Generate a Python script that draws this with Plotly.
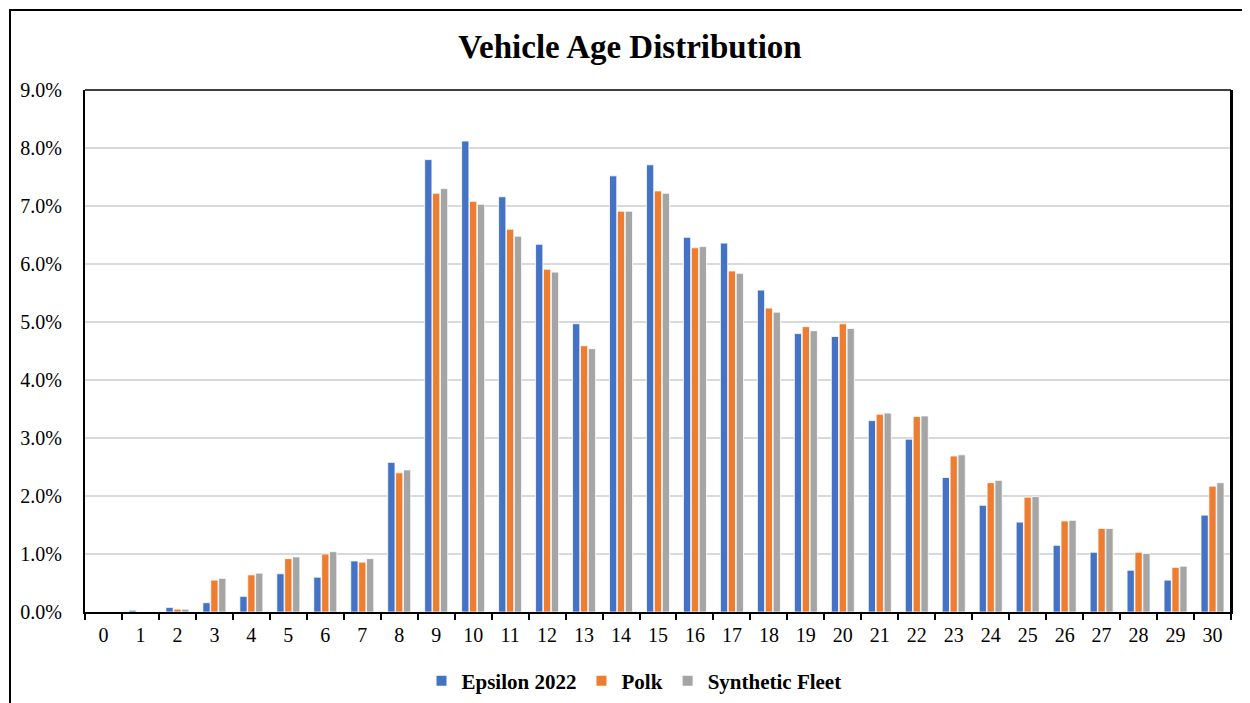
import plotly.graph_objects as go

ages = [str(i) for i in range(31)]
epsilon = [0.0, 0.03, 0.08, 0.16, 0.27, 0.66, 0.60, 0.88, 2.58, 7.80, 8.12, 7.16, 6.34, 4.97,
           7.52, 7.71, 6.46, 6.36, 5.55, 4.80, 4.75, 3.30, 2.98, 2.32, 1.84, 1.55, 1.15, 1.03,
           0.72, 0.55, 1.67]
polk = [0.0, 0.0, 0.05, 0.55, 0.64, 0.92, 1.00, 0.86, 2.40, 7.22, 7.08, 6.60, 5.91, 4.59,
        6.91, 7.26, 6.28, 5.88, 5.24, 4.92, 4.97, 3.41, 3.37, 2.69, 2.23, 1.98, 1.57, 1.44,
        1.03, 0.77, 2.17]
synthetic = [0.0, 0.0, 0.05, 0.58, 0.67, 0.95, 1.04, 0.92, 2.45, 7.30, 7.03, 6.48, 5.86, 4.54,
             6.91, 7.22, 6.30, 5.84, 5.17, 4.85, 4.89, 3.43, 3.38, 2.71, 2.27, 1.99, 1.58, 1.44,
             1.01, 0.79, 2.23]
y_ticks = [0, 1, 2, 3, 4, 5, 6, 7, 8, 9]
y_tick_labels = ["0.0%", "1.0%", "2.0%", "3.0%", "4.0%", "5.0%", "6.0%", "7.0%", "8.0%", "9.0%"]

series = [("Epsilon 2022", epsilon, "#4472C4"),
          ("Polk", polk, "#ED7D31"),
          ("Synthetic Fleet", synthetic, "#A5A5A5")]

fig = go.Figure()
for name, vals, col in series:
    fig.add_trace(go.Bar(x=ages, y=vals, name=name, showlegend=False,
                         marker=dict(color=col, line=dict(color="white", width=0.8))))
# legend entries (small square swatches)
for name, vals, col in series:
    fig.add_trace(go.Scatter(x=[None], y=[None], mode="markers", name="<b>" + name + "</b>",
                             marker=dict(symbol="square", size=10, color=col)))

# the page body has an 8px default margin; compensate so screen coords match
OFF = 8
W, H = 1250 - OFF, 703 - OFF
ml = 85 - OFF
mt = 90 - OFF
mr = W - (1231 - OFF)
mb = H - (612 - OFF)
pw, ph = W - ml - mr, H - mt - mb

def px_x(sx):
    return (sx - OFF - ml) / pw

def px_y(sy):
    return (H - mb - (sy - OFF)) / ph

fig.update_layout(
    width=W, height=H,
    margin=dict(l=ml, r=mr, t=mt, b=mb, autoexpand=False),
    paper_bgcolor="white", plot_bgcolor="white",
    font=dict(family="Liberation Serif, Times New Roman, serif", color="black", size=20),
    title=dict(text="<b>Vehicle Age Distribution</b>", x=(630 - OFF) / W, xref="container",
               xanchor="center", y=1 - (46 - OFF) / H, yanchor="middle",
               font=dict(size=33, color="black")),
    barmode="group", bargap=0.36, bargroupgap=0.08,
    showlegend=True,
    legend=dict(orientation="h", x=px_x(634), xanchor="center", y=px_y(681), yanchor="middle",
                font=dict(size=21), itemwidth=30, traceorder="normal", tracegroupgap=0),
    xaxis=dict(type="category", tickson="boundaries", ticks="outside", ticklen=6,
               tickwidth=2, tickcolor="black", showline=True, linecolor="black", linewidth=2,
               showgrid=False, tickfont=dict(size=20), ticklabelstandoff=4),
    yaxis=dict(range=[0, 9], tickmode="array", tickvals=y_ticks, ticktext=y_tick_labels,
               showgrid=True, gridcolor="#d9d9d9", gridwidth=1.5, showline=True,
               linecolor="black", linewidth=2, mirror=True, ticks="",
               ticklabelstandoff=17, zeroline=False, tickfont=dict(size=20)),
)

# right and top border of plot area + outer figure frame
fig.add_shape(type="line", xref="paper", yref="paper", x0=1, x1=1, y0=0, y1=1,
              line=dict(color="black", width=2))
fig.add_shape(type="line", xref="paper", yref="paper", x0=0, x1=1, y0=1, y1=1,
              line=dict(color="black", width=1.5))
fig.add_shape(type="rect", xref="paper", yref="paper",
              x0=px_x(10), x1=px_x(1245), y0=px_y(740), y1=px_y(10),
              line=dict(color="black", width=2), fillcolor="rgba(0,0,0,0)", layer="below")

fig.write_html("out.html")
